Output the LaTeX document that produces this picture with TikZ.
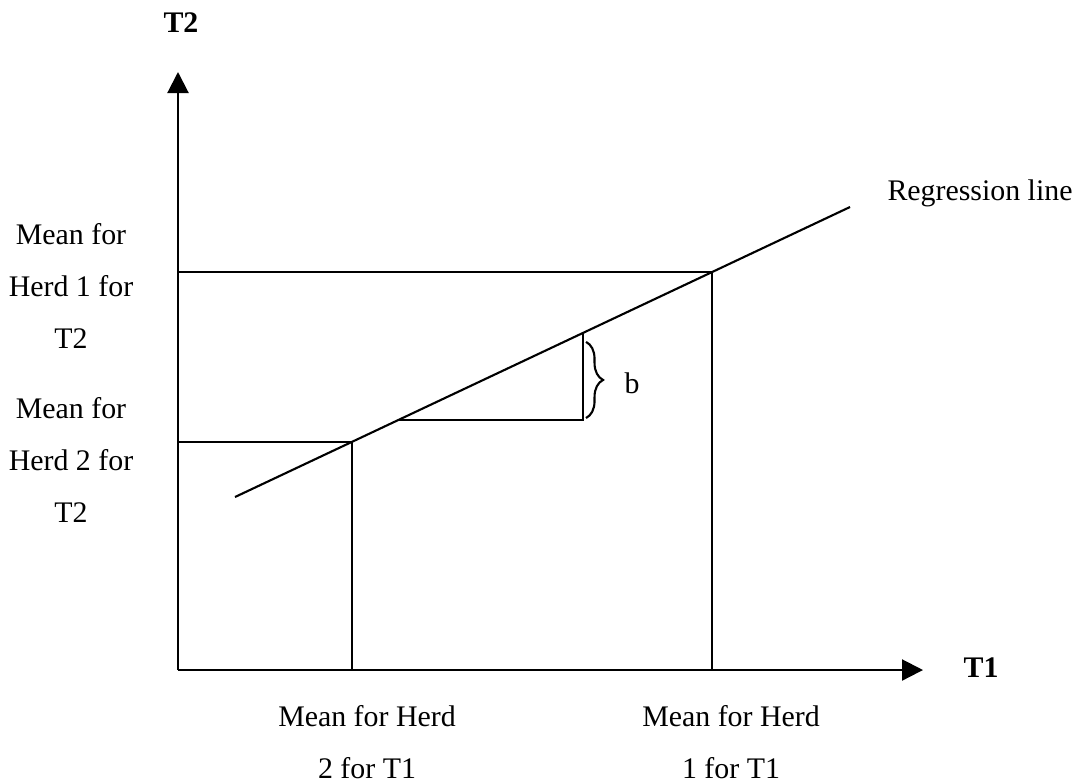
\documentclass[tikz,border=0pt]{standalone}
\usepackage{fontspec}
\setmainfont{Liberation Serif}
\usetikzlibrary{arrows.meta, decorations.pathreplacing, calc}
\tikzset{
  axis/.style  = {-{Triangle[length=2.1mm, width=2.1mm]}, line width=0.6pt},
  guide/.style = {line width=0.6pt},
  lbl/.style   = {align=center, font=\fontsize{8.5}{14.8}\selectfont, inner sep=0pt},
  axlbl/.style = {font=\fontsize{8.5}{10}\selectfont\bfseries, inner sep=0pt},
}

\begin{document}
\begin{tikzpicture}
  \useasboundingbox (0,0) rectangle (10.75,7.81);
  % axes
  \coordinate (o) at (1.78,1.11);
  \coordinate (ytip) at (1.78,7.09);
  \coordinate (xtip) at (9.23,1.11);
  \draw[axis] (o) -- (ytip);
  \draw[axis] (o) -- (xtip);
  \node[axlbl] (t2) at (1.81,7.58) {T2};
  \node[axlbl] (t1) at (9.81,1.13) {T1};
  % regression line
  \coordinate (r0) at (2.35,2.84);
  \coordinate (r1) at (8.50,5.74);
  \draw[guide] (r0) -- (r1);
  \node[lbl] (reg) at (9.80,5.88) {Regression line};
  % herd means
  \coordinate (h1) at ($(r0)!0.7756!(r1)$);
  \coordinate (h2) at ($(r0)!0.190!(r1)$);
  \draw[guide] (o |- h1) -- (h1) -- (h1 |- o);
  \draw[guide] (o |- h2) -- (h2) -- (h2 |- o);
  % slope triangle
  \coordinate (s0) at ($(r0)!0.2655!(r1)$);
  \coordinate (s1) at ($(r0)!0.5659!(r1)$);
  \coordinate (s2) at (s1 |- s0);
  \draw[guide] (s0) -- (s2) -- (s1);
  \coordinate (bt) at ($(s1)+(0.03,-0.09)$);
  \coordinate (bb) at ($(s2)+(0.03,0.02)$);
  \draw[guide, decorate, decoration={brace, amplitude=1.7mm}] (bt) -- (bb);
  \node[lbl] (b) at (6.32,3.98) {b};
  % labels
  \node[lbl] (m1y) at (0.71,4.955) {Mean for\\Herd 1 for\\T2};
  \node[lbl] (m2y) at (0.71,3.213) {Mean for\\Herd 2 for\\T2};
  \node[lbl] (m2x) at (3.67,0.39) {Mean for Herd\\2 for T1};
  \node[lbl] (m1x) at (7.31,0.39) {Mean for Herd\\1 for T1};
\end{tikzpicture}
\end{document}
